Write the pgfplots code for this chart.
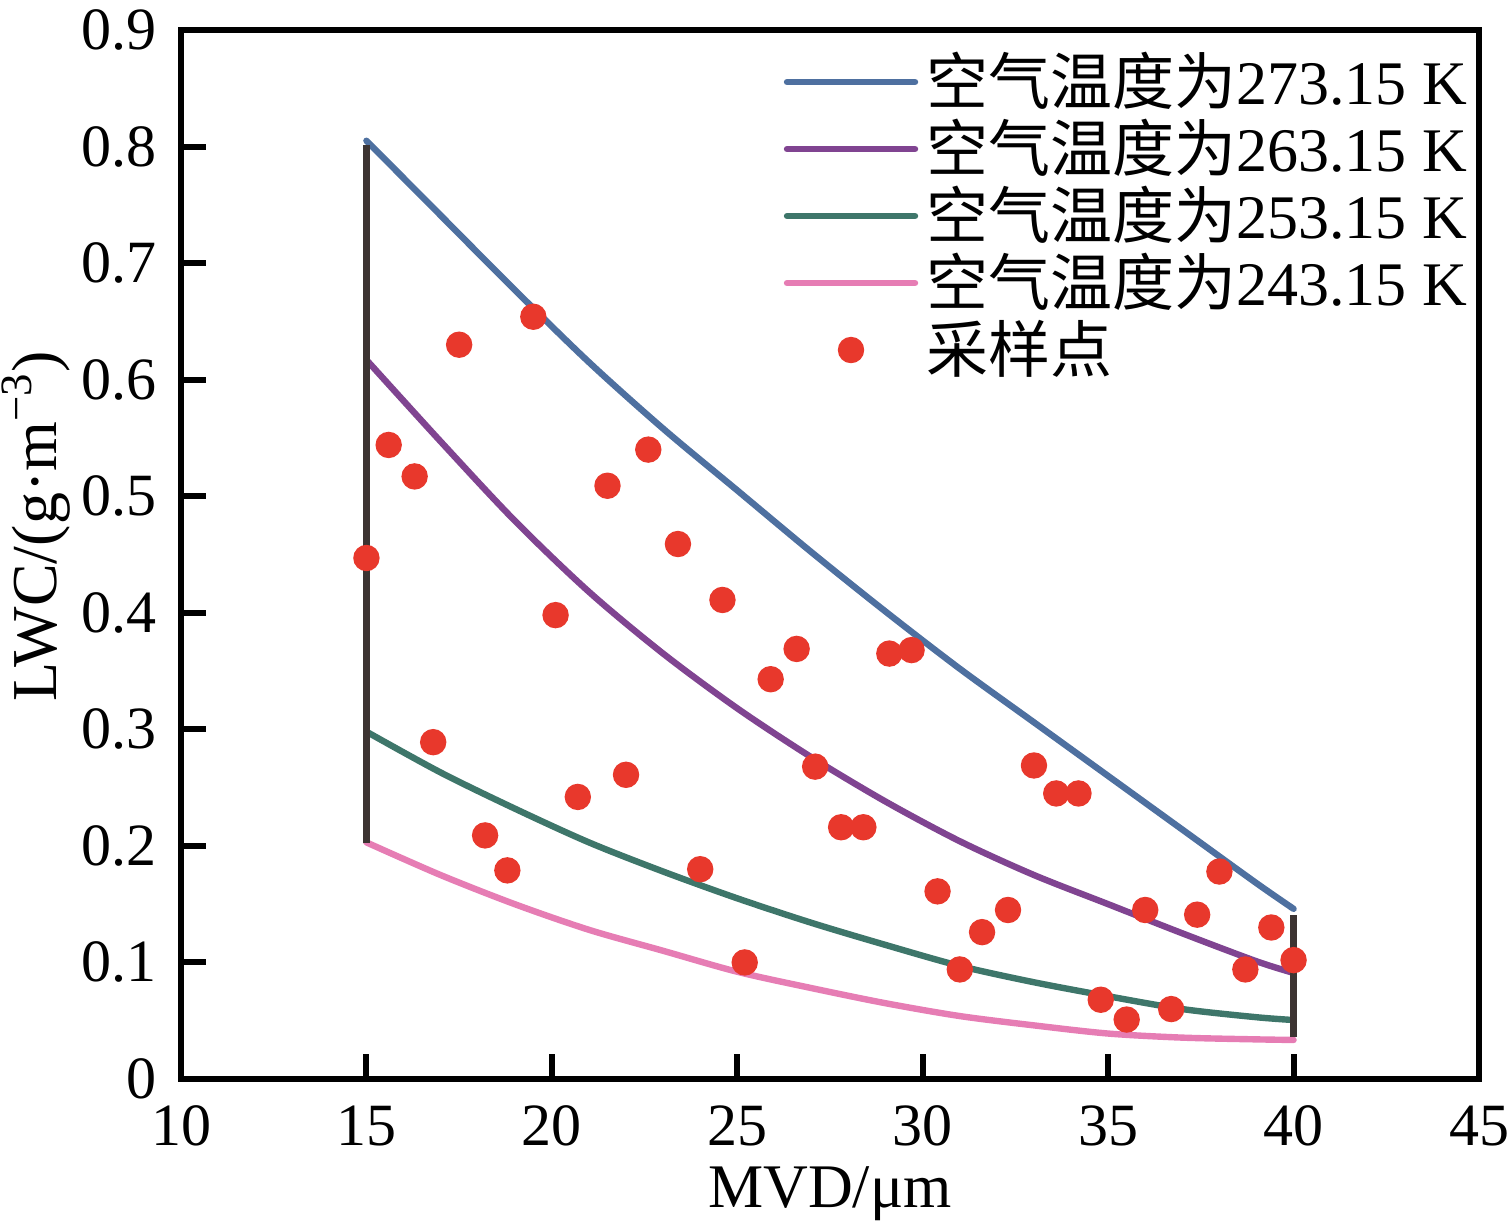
\documentclass[border=0pt]{standalone}
\usepackage{fontspec}
\setmainfont{Liberation Serif}
\newfontfamily\cjk{Noto Sans CJK SC}
\usepackage{pgfplots}
\pgfplotsset{compat=1.18}
\definecolor{cblue}{HTML}{4E70A0}
\definecolor{cpurple}{HTML}{804491}
\definecolor{cgreen}{HTML}{3E766A}
\definecolor{cpink}{HTML}{E67DB4}
\definecolor{cred}{HTML}{E8382C}
\definecolor{cdark}{HTML}{3C3432}
\pgfplotsset{dotlegend/.style={legend image code/.code={\draw[##1, only marks, mark repeat=2, mark phase=2] plot coordinates {(0pt,0pt) (16pt,0pt) (32pt,0pt)};}}}
\begin{document}
\begin{tikzpicture}
\useasboundingbox (-45.25pt,-35.75pt) rectangle (332pt,269.75pt);
\begin{axis}[
  scale only axis, width=324.5pt, height=262.25pt,
  xmin=10, xmax=45, ymin=0, ymax=0.9,
  xtick={10,15,20,25,30,35,40,45},
  ytick={0,0.1,0.2,0.3,0.4,0.5,0.6,0.7,0.8,0.9},
  tick pos=left, tick align=inside,
  major tick length=6.25pt,
  every tick/.style={black, line width=1.5pt},
  axis line style={line width=1.5pt, black},
  /pgf/number format/assume math mode=true,
  /pgf/number format/fixed,
  tick label style={font=\fontsize{15}{18}\selectfont},
  yticklabel style={anchor=east, inner sep=0pt, xshift=-6pt},
  xticklabel style={anchor=base, inner sep=0pt, yshift=-16.5pt},
  xlabel={MVD/μm},
  ylabel={LWC/(g·m\textsuperscript{−3})},
  xlabel style={at={(axis description cs:0.5,0)}, anchor=base, inner sep=0pt, yshift=-32pt, font=\fontsize{15.5}{18}\selectfont},
  ylabel style={at={(axis description cs:-0.1115,0.527)}, anchor=center, inner sep=0pt, font=\fontsize{16}{19}\selectfont},
  legend cell align=left,
  legend style={draw=none, fill=none, at={(axis description cs:1,1)}, anchor=north east,
    xshift=-3pt, yshift=-5.5pt, inner sep=0pt, outer sep=0pt, row sep=1.75pt, column sep=2pt,
    font=\fontsize{15.5}{18}\selectfont,
    nodes={inner sep=0pt, text height=13pt, text depth=2pt}},
  legend image code/.code={\draw[#1, line cap=round] (0pt,0pt) -- (32pt,0pt);},
]
\addplot[cblue, line width=1.6pt, smooth, line cap=round] table {
15 0.805
17 0.741
19 0.677
21 0.615
23 0.558
25 0.505
27 0.452
29 0.401
31 0.352
33 0.306
35 0.260
37 0.214
39 0.168
40 0.146
};
\addlegendentry{{\cjk 空气温度为}273.15 K}
\addplot[cpurple, line width=1.6pt, smooth, line cap=round] table {
15 0.617
17 0.547
19 0.479
21 0.418
23 0.365
25 0.318
27 0.276
29 0.238
31 0.204
33 0.175
35 0.150
37 0.125
39 0.101
40 0.091
};
\addlegendentry{{\cjk 空气温度为}263.15 K}
\addplot[cgreen, line width=1.6pt, smooth, line cap=round] table {
15 0.298
17 0.263
19 0.232
21 0.203
23 0.178
25 0.155
27 0.134
29 0.115
31 0.097
33 0.083
35 0.071
37 0.060
39 0.053
40 0.0506
};
\addlegendentry{{\cjk 空气温度为}253.15 K}
\addplot[cpink, line width=1.6pt, smooth, line cap=round] table {
15 0.203
17 0.175
19 0.150
21 0.128
23 0.110
25 0.092
27 0.078
29 0.065
31 0.054
33 0.046
35 0.039
37 0.0355
39 0.034
40 0.0335
};
\addlegendentry{{\cjk 空气温度为}243.15 K}
\addplot[cdark, line width=1.7pt, forget plot] coordinates {(15,0.2027) (15,0.801)};
\addplot[cdark, line width=1.7pt, forget plot] coordinates {(40,0.0363) (40,0.1407)};
\addplot[only marks, mark=*, mark size=3.1pt, color=cred, mark options={draw=cred, fill=cred}, dotlegend] table {
15.0 0.447
15.6 0.544
16.3 0.517
16.8 0.289
17.5 0.630
18.2 0.209
18.8 0.179
19.5 0.654
20.1 0.398
20.7 0.242
21.5 0.509
22.0 0.261
22.6 0.540
23.4 0.459
24.0 0.180
24.6 0.411
25.2 0.100
25.9 0.343
26.6 0.369
27.1 0.268
27.8 0.216
28.4 0.216
29.1 0.365
29.7 0.368
30.4 0.161
31.0 0.094
31.6 0.126
32.3 0.145
33.0 0.269
33.6 0.245
34.2 0.245
34.8 0.068
35.5 0.051
36.0 0.145
36.7 0.060
37.4 0.141
38.0 0.178
38.7 0.094
39.4 0.130
40.0 0.102
};
\addlegendentry{{\cjk 采样点}}
\end{axis}
\end{tikzpicture}
\end{document}
